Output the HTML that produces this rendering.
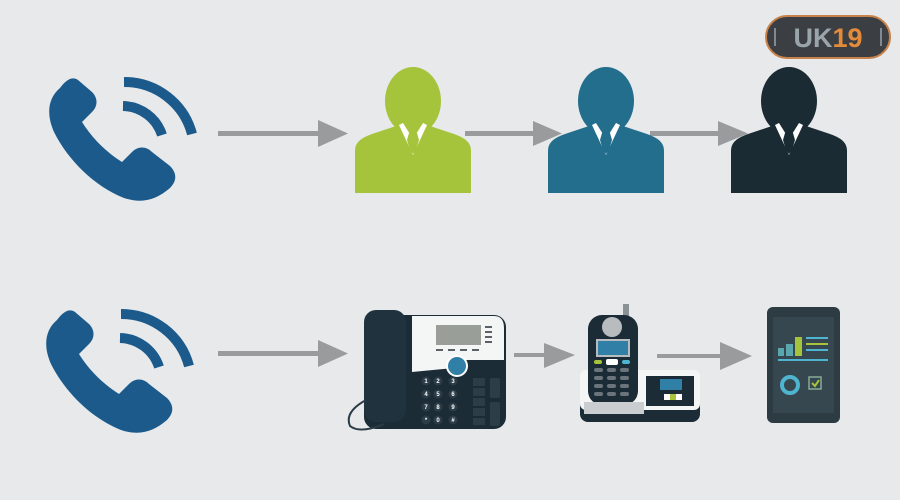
<!DOCTYPE html>
<html><head><meta charset="utf-8"><style>
html,body{margin:0;padding:0;background:#e7e9eb;}
svg{display:block}
</style></head><body>
<svg width="900" height="500" viewBox="0 0 900 500" xmlns="http://www.w3.org/2000/svg">
<rect width="900" height="500" fill="#e7e9eb"/>
<defs>
<g id="ph">
<path d="M60 88 C48 98 46 114 54 132 C68 160 94 186 124 198 C142 204 156 200 170 188 C178 180 176 172 170 166 L152 152 C146 146 138 146 132 152 L122 162 C106 152 92 138 82 122 L92 112 C98 106 98 98 92 92 L78 80 C72 76 66 80 60 88 Z" fill="#1b5a8a"/>
<path d="M123 106 A42 42 0 0 1 162 135" stroke="#1b5a8a" stroke-width="10" fill="none"/>
<path d="M124 82 A70 70 0 0 1 192 134" stroke="#1b5a8a" stroke-width="10" fill="none"/>
</g>
<g id="man">
<ellipse cx="0" cy="-30" rx="28" ry="34"/>
<path d="M-58 62 L-58 20 C-58 10 -50 6 -38 2 L-14 -6 L14 -6 L38 2 C50 6 58 10 58 20 L58 62 Z"/>
<path d="M-14 -6 L0 24 L14 -6 L10 -8 L0 8 L-10 -8 Z" fill="#fff"/>
</g>
</defs>
<use href="#ph" x="0" y="0"/>
<use href="#ph" x="-3" y="232"/>
<g fill="#9a9b9d">
<rect x="218" y="131" width="104" height="5"/><polygon points="318,120 348,133.5 318,147"/>
<rect x="465" y="131" width="72" height="5"/><polygon points="533,121 562,133.5 533,146"/>
<rect x="650" y="131" width="72" height="5"/><polygon points="718,121 748,133.5 718,146"/>
<rect x="218" y="351" width="104" height="5"/><polygon points="318,340 348,353.5 318,367"/>
<rect x="514" y="353" width="36" height="4"/><polygon points="544,343 575,355 544,368"/>
<rect x="657" y="354" width="68" height="4"/><polygon points="720,342 752,356 720,370"/>
</g>
<g fill="#a6c43b"><use href="#man" x="413" y="131"/><path d="M409 133 L417 133 L419 140 L416 150 L413 154 L410 150 L407 140 Z"/></g>
<g fill="#236e8c"><use href="#man" x="606" y="131"/><path d="M602 133 L610 133 L612 140 L609 150 L606 154 L603 150 L600 140 Z"/></g>
<g fill="#1a2b33"><use href="#man" x="789" y="131"/><path d="M785 133 L793 133 L795 140 L792 150 L789 154 L786 150 L783 140 Z"/></g>
<!-- desk phone -->
<g>
<rect x="364" y="315" width="142" height="114" rx="12" fill="#1c2c36"/>
<path d="M412 316 L494 316 Q504 316 504 328 L504 360 L468 360 Q458 360 454 368 L412 372 Z" fill="#f4f5f5"/>
<rect x="436" y="325" width="45" height="20" fill="#9a9e98"/>
<g fill="#5a6268"><rect x="485" y="326" width="7" height="2"/><rect x="485" y="331" width="7" height="2"/><rect x="485" y="336" width="7" height="2"/><rect x="485" y="341" width="7" height="2"/>
<rect x="436" y="349" width="7" height="2"/><rect x="448" y="349" width="7" height="2"/><rect x="460" y="349" width="7" height="2"/><rect x="472" y="349" width="7" height="2"/></g>
<rect x="364" y="310" width="42" height="112" rx="12" fill="#1f323d"/>
<circle cx="457" cy="366" r="11" fill="#fff"/><circle cx="457" cy="366" r="9" fill="#2f7fa6"/>
<g fill="#fff" font-family="Liberation Sans,sans-serif" font-size="6" font-weight="bold" text-anchor="middle">
<circle cx="426" cy="381" r="4.5" fill="#2d3d47"/><circle cx="438" cy="381" r="4.5" fill="#2d3d47"/><circle cx="453" cy="381" r="4.5" fill="#2d3d47"/>
<circle cx="426" cy="394" r="4.5" fill="#2d3d47"/><circle cx="438" cy="394" r="4.5" fill="#2d3d47"/><circle cx="453" cy="394" r="4.5" fill="#2d3d47"/>
<circle cx="426" cy="407" r="4.5" fill="#2d3d47"/><circle cx="438" cy="407" r="4.5" fill="#2d3d47"/><circle cx="453" cy="407" r="4.5" fill="#2d3d47"/>
<circle cx="426" cy="420" r="4.5" fill="#2d3d47"/><circle cx="438" cy="420" r="4.5" fill="#2d3d47"/><circle cx="453" cy="420" r="4.5" fill="#2d3d47"/>
<text x="426" y="383">1</text><text x="438" y="383">2</text><text x="453" y="383">3</text>
<text x="426" y="396">4</text><text x="438" y="396">5</text><text x="453" y="396">6</text>
<text x="426" y="409">7</text><text x="438" y="409">8</text><text x="453" y="409">9</text>
<text x="426" y="422">*</text><text x="438" y="422">0</text><text x="453" y="422">#</text>
</g>
<g fill="#2d3d47"><rect x="473" y="378" width="12" height="8"/><rect x="473" y="388" width="12" height="8"/><rect x="473" y="398" width="12" height="8"/><rect x="473" y="408" width="12" height="8"/><rect x="473" y="418" width="12" height="7"/>
<rect x="490" y="378" width="10" height="20" rx="2"/><rect x="490" y="402" width="10" height="24" rx="2"/></g>
<path d="M366 400 Q344 412 350 426 Q360 434 384 424" stroke="#2a3b45" stroke-width="2" fill="none"/>
</g>
<!-- cordless -->
<g>
<rect x="580" y="376" width="120" height="46" rx="8" fill="#1c2c36"/>
<rect x="580" y="370" width="120" height="40" rx="6" fill="#f4f5f5"/>
<rect x="646" y="376" width="48" height="30" fill="#1c2c36"/>
<rect x="660" y="379" width="22" height="11" fill="#2f7fa6"/>
<rect x="664" y="394" width="6" height="6" fill="#fff"/><rect x="670" y="394" width="6" height="6" fill="#a6c43b"/><rect x="676" y="394" width="6" height="6" fill="#fff"/>
<rect x="623" y="304" width="6" height="16" fill="#8b9296"/>
<rect x="588" y="315" width="50" height="90" rx="14" fill="#1c2c36"/>
<circle cx="612" cy="327" r="10" fill="#b8bcbf"/>
<rect x="597" y="340" width="32" height="16" fill="#2f7fa6" stroke="#b8bcbf" stroke-width="2"/>
<rect x="594" y="360" width="8" height="4" rx="2" fill="#a6c43b"/><rect x="606" y="359" width="12" height="6" rx="2" fill="#fff"/><rect x="622" y="360" width="8" height="4" rx="2" fill="#4fb4d0"/>
<g fill="#6a747a"><rect x="594" y="368" width="9" height="4" rx="2"/><rect x="607" y="368" width="9" height="4" rx="2"/><rect x="620" y="368" width="9" height="4" rx="2"/>
<rect x="594" y="376" width="9" height="4" rx="2"/><rect x="607" y="376" width="9" height="4" rx="2"/><rect x="620" y="376" width="9" height="4" rx="2"/>
<rect x="594" y="384" width="9" height="4" rx="2"/><rect x="607" y="384" width="9" height="4" rx="2"/><rect x="620" y="384" width="9" height="4" rx="2"/>
<rect x="594" y="392" width="9" height="4" rx="2"/><rect x="607" y="392" width="9" height="4" rx="2"/><rect x="620" y="392" width="9" height="4" rx="2"/></g>
<rect x="584" y="402" width="60" height="12" fill="#c9cdcf"/>
</g>
<!-- tablet -->
<rect x="767" y="307" width="73" height="116" rx="6" fill="#2d3b42"/>
<rect x="773" y="317" width="61" height="96" fill="#36474f"/>
<rect x="778" y="348" width="6" height="8" fill="#5aa6ad"/><rect x="786" y="344" width="7" height="12" fill="#5aa6ad"/><rect x="795" y="337" width="7" height="19" fill="#a6c43b"/>
<rect x="806" y="337" width="22" height="2" fill="#4fb4d0"/><rect x="806" y="343" width="22" height="2" fill="#a6c43b"/><rect x="806" y="349" width="22" height="2" fill="#4fb4d0"/>
<rect x="778" y="359" width="50" height="2" fill="#4fb4d0"/>
<circle cx="790" cy="385" r="8" stroke="#4fb4d0" stroke-width="4" fill="none"/>
<rect x="809" y="377" width="12" height="12" fill="none" stroke="#8a9" stroke-width="1.5"/>
<path d="M812 383 L815 386 L819 380" stroke="#a6c43b" stroke-width="2" fill="none"/>
<!-- logo -->
<rect x="766" y="16" width="124" height="42" rx="21" fill="#3b3e42" stroke="#c9834a" stroke-width="2"/>
<path d="M775 28 L775 46 M881 28 L881 46" stroke="#9aa4ab" stroke-width="1.5"/>
<text x="828" y="47" font-family="Liberation Sans,sans-serif" font-weight="bold" font-size="27" text-anchor="middle" fill="#9aa4ab">UK<tspan fill="#e38b3a">19</tspan></text>
</svg>
</body></html>
